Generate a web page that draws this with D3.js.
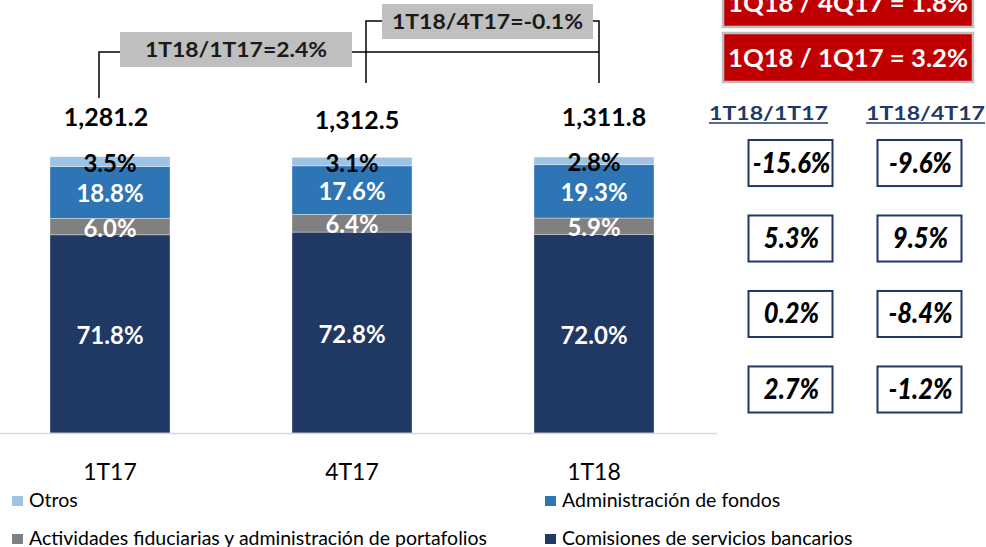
<!DOCTYPE html>
<html>
<head>
<meta charset="utf-8">
<script src="https://cdn.jsdelivr.net/npm/d3@7"></script>
<style>
  html, body { margin: 0; padding: 0; background: #fff; }
  svg { display: block; font-family: Lato, "Open Sans", sans-serif; }
</style>
</head>
<body>
<svg id="chart" width="986" height="547"></svg>
<script>
// Quarterly fee income mix (% of total) and totals
const categories = ["1T17", "4T17", "1T18"];
const seriesNames = [
  "Comisiones de servicios bancarios",
  "Actividades fiduciarias y administración de portafolios",
  "Administración de fondos",
  "Otros"
];
const comisiones = [71.8, 72.8, 72.0];
const fiduciarias = [6.0, 6.4, 5.9];
const fondos = [18.8, 17.6, 19.3];
const otros = [3.5, 3.1, 2.8];
const totals = [1281.2, 1312.5, 1311.8];

// Growth by line, top row to bottom row: Otros, Fondos, Fiduciarias, Comisiones
const growthHeaders = ["1T18/1T17", "1T18/4T17"];
const growthVs1T17 = [-15.6, 5.3, 0.2, 2.7];
const growthVs4T17 = [-9.6, 9.5, -8.4, -1.2];

const totalChange = ["1T18/1T17=2.4%", "1T18/4T17=-0.1%"];
const highlightTexts = ["1Q18 / 4Q17 = 1.8%", "1Q18 / 1Q17 = 3.2%"];

const colors = {
  "Otros": "#9DC3E6",
  "Administración de fondos": "#2E75B6",
  "Actividades fiduciarias y administración de portafolios": "#808080",
  "Comisiones de servicios bancarios": "#203864"
};
const labelColors = {
  "Otros": "#000",
  "Administración de fondos": "#fff",
  "Actividades fiduciarias y administración de portafolios": "#fff",
  "Comisiones de servicios bancarios": "#fff"
};

const svg = d3.select("#chart");

// Build stack rows
const rows = categories.map((c, i) => ({
  cat: c,
  "Comisiones de servicios bancarios": comisiones[i],
  "Actividades fiduciarias y administración de portafolios": fiduciarias[i],
  "Administración de fondos": fondos[i],
  "Otros": otros[i]
}));
const stacked = d3.stack().keys(seriesNames)(rows);

const x = d3.scaleBand().domain(categories).range([-11, 715])
  .paddingInner(0.504).paddingOuter(0.252);
const y = d3.scaleLinear().domain([0, 100]).range([433, 157]);

// Bars
const layers = svg.append("g").selectAll("g").data(stacked).join("g")
  .attr("fill", d => colors[d.key]);
layers.selectAll("rect").data(d => d).join("rect")
  .attr("x", d => x(d.data.cat))
  .attr("width", x.bandwidth())
  .attr("y", d => y(d[1]))
  .attr("height", d => y(d[0]) - y(d[1]))
  .attr("stroke", "#fff").attr("stroke-width", 0.6).attr("stroke-opacity", 0.6);

// Segment labels
const fmtPct = v => v.toFixed(1) + "%";
svg.append("g").selectAll("g").data(stacked).join("g")
  .attr("fill", d => labelColors[d.key])
  .selectAll("text").data(d => d).join("text")
  .attr("x", d => x(d.data.cat) + x.bandwidth() / 2)
  .attr("y", d => (y(d[0]) + y(d[1])) / 2 + 10)
  .attr("text-anchor", "middle")
  .attr("font-size", 24).attr("font-weight", 700)
  .text(d => fmtPct(d[1] - d[0]));

// Baseline
svg.append("line").attr("x1", 0).attr("x2", 717)
  .attr("y1", y(0) + 0.5).attr("y2", y(0) + 0.5)
  .attr("stroke", "#D9D9D9").attr("stroke-width", 1.5);

// Category labels
svg.append("g").selectAll("text").data(categories).join("text")
  .attr("x", d => x(d) + x.bandwidth() / 2)
  .attr("y", 480)
  .attr("text-anchor", "middle")
  .attr("font-size", 23).attr("fill", "#000")
  .text(d => d);

// Totals
const fmtTotal = d3.format(",.1f");
const totalNudge = [-4, 5, 10];
svg.append("g").selectAll("text").data(totals).join("text")
  .attr("x", (d, i) => x(categories[i]) + x.bandwidth() / 2 + totalNudge[i])
  .attr("y", (d, i) => i === 1 ? 129 : 126)
  .attr("text-anchor", "middle")
  .attr("font-size", 25).attr("font-weight", 700).attr("fill", "#000")
  .text(d => fmtTotal(d));

// Change brackets
const cx = i => x(categories[i]) + x.bandwidth() / 2;
const vA = cx(0) - 11, vB = cx(1) + 14, vC = cx(2) + 5;
const br = svg.append("g").attr("fill", "none").attr("stroke", "#000").attr("stroke-width", 1.5);
br.append("path").attr("d", `M${vA},98 V52 H120 M352,52 H${vC}`);
br.append("path").attr("d", `M${vB},83 V21 H382 M593,21 H${vC} V83`);

const boxes = [
  { x0: 120, x1: 352, y0: 32, y1: 67, w: 182 },
  { x0: 382, x1: 593, y0: 4, y1: 39, w: 191 }
];
boxes.forEach((b, i) => {
  svg.append("rect").attr("x", b.x0).attr("y", b.y0)
    .attr("width", b.x1 - b.x0).attr("height", b.y1 - b.y0)
    .attr("fill", "#BFBFBF");
  svg.append("text")
    .attr("x", (b.x0 + b.x1) / 2).attr("y", (b.y0 + b.y1) / 2 + 7.5)
    .attr("text-anchor", "middle")
    .attr("font-size", 21).attr("font-weight", 700).attr("fill", "#1a1a1a")
    .attr("textLength", b.w).attr("lengthAdjust", "spacingAndGlyphs")
    .text(totalChange[i]);
});

// Highlight boxes (top right)
const redBoxes = [{ y0: -23, y1: 27 }, { y0: 33, y1: 82 }];
redBoxes.forEach((b, i) => {
  svg.append("rect").attr("x", 723).attr("y", b.y0)
    .attr("width", 250).attr("height", b.y1 - b.y0)
    .attr("fill", "#C00000").attr("stroke", "#BFBFBF").attr("stroke-width", 2.5);
  svg.append("text")
    .attr("x", 848).attr("y", b.y1 - 15)
    .attr("text-anchor", "middle")
    .attr("font-size", 25).attr("font-weight", 700).attr("fill", "#fff")
    .attr("textLength", 240).attr("lengthAdjust", "spacingAndGlyphs")
    .text(highlightTexts[i]);
});

// Growth table
const colX = d3.scaleOrdinal().domain(growthHeaders).range([790.5, 919.5]);
const colW = 84;
const rowKeys = ["Otros", "Administración de fondos",
  "Actividades fiduciarias y administración de portafolios",
  "Comisiones de servicios bancarios"];
const rowY = d3.scaleBand().domain(rowKeys).range([140, 412.5])
  .paddingInner(0.39).paddingOuter(0);

const headerCenters = [768.5, 925.5];
growthHeaders.forEach((h, j) => {
  svg.append("text")
    .attr("x", headerCenters[j]).attr("y", 120)
    .attr("text-anchor", "middle")
    .attr("font-size", 19).attr("font-weight", 700).attr("fill", "#1F3864")
    .attr("textLength", 119).attr("lengthAdjust", "spacingAndGlyphs")
    .text(h);
  svg.append("line")
    .attr("x1", headerCenters[j] - 59.5).attr("x2", headerCenters[j] + 59.5)
    .attr("y1", 123).attr("y2", 123)
    .attr("stroke", "#1F3864").attr("stroke-width", 1.5);
});

const growthCols = [growthVs1T17, growthVs4T17];
growthCols.forEach((vals, j) => {
  const g = svg.append("g");
  vals.forEach((v, r) => {
    const cxp = colX(growthHeaders[j]);
    const top = rowY(rowKeys[r]);
    g.append("rect")
      .attr("x", cxp - colW / 2).attr("y", top)
      .attr("width", colW).attr("height", rowY.bandwidth())
      .attr("fill", "#fff").attr("stroke", "#1F3864").attr("stroke-width", 2);
    g.append("g")
      .attr("transform", `translate(${cxp + 1},${top + rowY.bandwidth() / 2 + 9.5}) scale(0.88,1)`)
      .append("text")
      .attr("text-anchor", "middle")
      .attr("font-size", 29).attr("font-weight", 900).attr("font-style", "italic")
      .attr("fill", "#000")
      .text(fmtPct(v));
  });
});

// Legend
const legendItems = [
  { key: "Otros", x: 12, y: 496 },
  { key: "Administración de fondos", x: 545, y: 496 },
  { key: "Actividades fiduciarias y administración de portafolios", x: 12, y: 534 },
  { key: "Comisiones de servicios bancarios", x: 545, y: 534 }
];
const lg = svg.append("g").selectAll("g").data(legendItems).join("g")
  .attr("transform", d => `translate(${d.x},${d.y})`);
lg.append("rect").attr("width", 11).attr("height", 10)
  .attr("fill", d => colors[d.key]);
lg.append("text").attr("x", 17).attr("y", 10.5)
  .attr("font-size", 19.5).attr("fill", "#000")
  .text(d => d.key);
</script>
</body>
</html>
